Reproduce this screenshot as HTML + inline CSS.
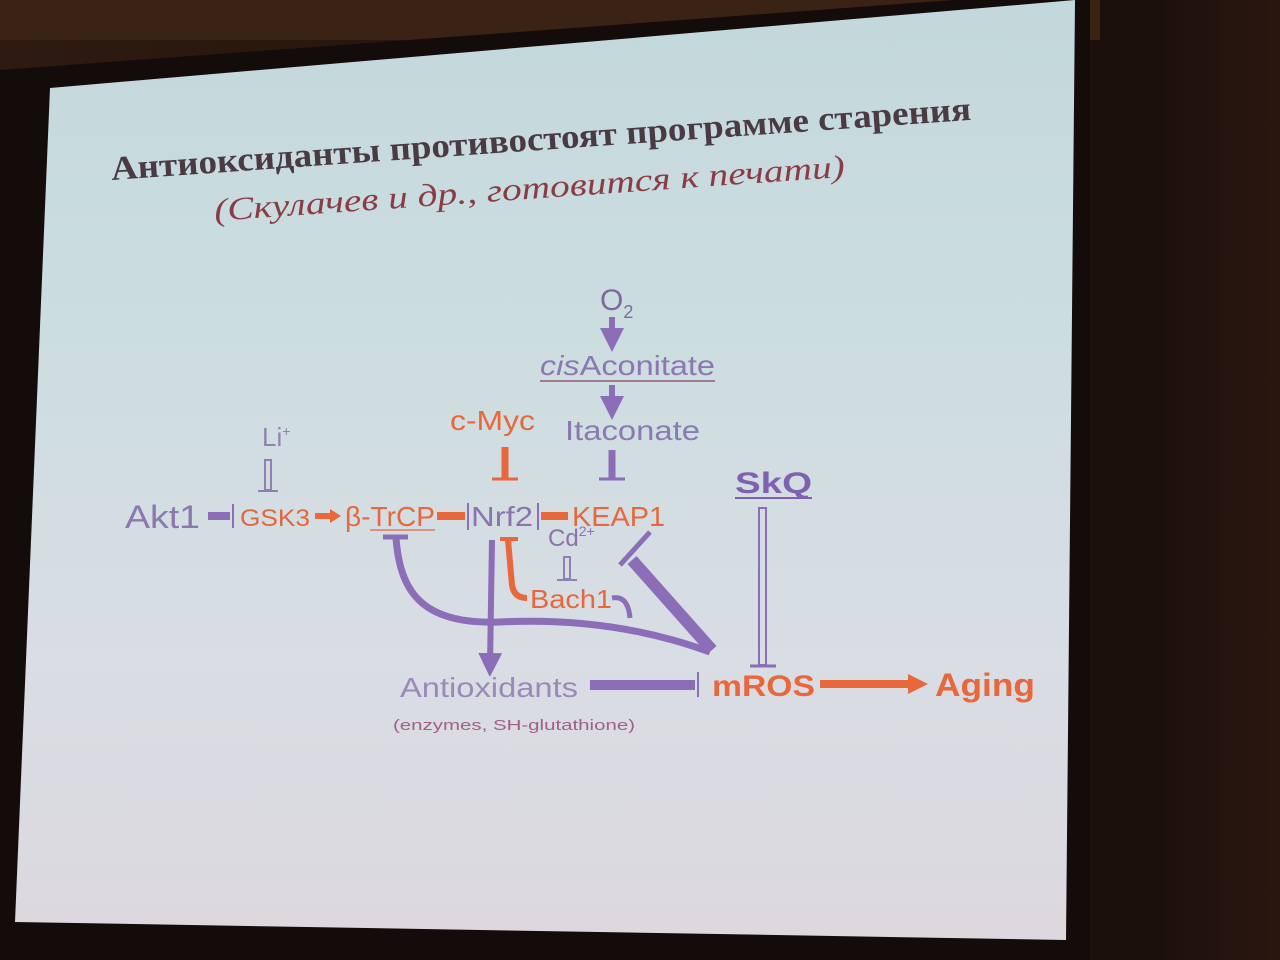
<!DOCTYPE html>
<html><head><meta charset="utf-8"><style>
html,body{margin:0;padding:0;background:#241510;}
svg{display:block}
text{font-family:"Liberation Sans","DejaVu Sans",sans-serif}
.t{font-family:"Liberation Serif","DejaVu Serif",serif}
</style></head><body>
<svg width="1280" height="960" viewBox="0 0 1280 960" xmlns="http://www.w3.org/2000/svg">
<defs>
<linearGradient id="bg" x1="0" y1="0" x2="0" y2="1">
<stop offset="0" stop-color="#c3d8dc"/>
<stop offset="0.35" stop-color="#ccdde0"/>
<stop offset="0.7" stop-color="#d9dde4"/>
<stop offset="1" stop-color="#dcd8de"/>
</linearGradient>
<linearGradient id="room" x1="0" y1="0" x2="1" y2="0">
<stop offset="0" stop-color="#2e1a10"/>
<stop offset="0.9" stop-color="#1c100c"/>
<stop offset="1" stop-color="#2a160f"/>
</linearGradient>
<marker id="ap" markerWidth="4" markerHeight="4" refX="2" refY="2" orient="auto"><path d="M0,0 L4,2 L0,4z" fill="#8b6db8"/></marker>
</defs>
<rect width="1280" height="960" fill="url(#room)"/>
<rect x="0" y="0" width="1100" height="40" fill="#3a2314"/>
<polygon points="0,70 1090,-10 1090,960 0,960" fill="#140c0a"/>
<polygon points="50,88 1075,0 1066,940 15,922" fill="url(#bg)"/>
<g transform="rotate(-4 540 140)">
<text class="t" x="110" y="150" font-size="34" font-weight="bold" fill="#4a3a42" textLength="862" lengthAdjust="spacingAndGlyphs">Антиоксиданты противостоят программе старения</text>
<text class="t" x="210" y="198" font-size="32" font-style="italic" fill="#8a3c44" textLength="632" lengthAdjust="spacingAndGlyphs">(Скулачев и др., готовится к печати)</text>
</g>
<g font-size="28">
<text x="600" y="310" fill="#7d6a9c" font-size="30">O<tspan font-size="18" dy="8">2</tspan></text>
<line x1="612" y1="317" x2="612" y2="340" stroke="#8b6db8" stroke-width="6" marker-end="url(#ap)"/>
<text x="540" y="375" fill="#8b78b0" textLength="175" lengthAdjust="spacingAndGlyphs"><tspan font-style="italic">cis</tspan>Aconitate</text>
<line x1="540" y1="381" x2="715" y2="381" stroke="#a07890" stroke-width="2"/>
<line x1="612" y1="385" x2="612" y2="408" stroke="#8b6db8" stroke-width="6" marker-end="url(#ap)"/>
<text x="565" y="440" fill="#8b7ab0" textLength="135" lengthAdjust="spacingAndGlyphs">Itaconate</text>
<text x="450" y="430" fill="#e8683c" textLength="85" lengthAdjust="spacingAndGlyphs">c-Myc</text>
<text x="262" y="446" fill="#9182b0" font-size="26">Li<tspan font-size="14" dy="-10">+</tspan></text>
<rect x="265" y="460" width="6" height="30" fill="none" stroke="#9080b0" stroke-width="2"/>
<line x1="258" y1="491" x2="278" y2="491" stroke="#9080b0" stroke-width="2"/>
<line x1="505" y1="447" x2="505" y2="478" stroke="#e8683c" stroke-width="7"/>
<line x1="492" y1="479" x2="518" y2="479" stroke="#e8683c" stroke-width="3"/>
<line x1="612" y1="450" x2="612" y2="478" stroke="#8b6db8" stroke-width="7"/>
<line x1="599" y1="479" x2="625" y2="479" stroke="#8b6db8" stroke-width="3"/>
<text x="125" y="528" fill="#8a78b0" font-size="32" textLength="75" lengthAdjust="spacingAndGlyphs">Akt1</text>
<line x1="208" y1="516" x2="230" y2="516" stroke="#8b6db8" stroke-width="8"/>
<line x1="233" y1="504" x2="233" y2="528" stroke="#8b6db8" stroke-width="2"/>
<text x="240" y="526" fill="#e0683c" font-size="24" textLength="70" lengthAdjust="spacingAndGlyphs">GSK3</text>
<line x1="315" y1="516" x2="332" y2="516" stroke="#e8683c" stroke-width="6"/>
<path d="M330,509 L341,516 L330,523z" fill="#e8683c"/>
<text x="345" y="526" fill="#e8683c" textLength="90" lengthAdjust="spacingAndGlyphs">β-TrCP</text>
<line x1="370" y1="530" x2="435" y2="530" stroke="#e09080" stroke-width="2"/>
<line x1="437" y1="516" x2="465" y2="516" stroke="#e8683c" stroke-width="8"/>
<line x1="468" y1="503" x2="468" y2="530" stroke="#8b6db8" stroke-width="2"/>
<text x="471" y="526" fill="#8a74b0" textLength="62" lengthAdjust="spacingAndGlyphs">Nrf2</text>
<line x1="538" y1="503" x2="538" y2="530" stroke="#8b6db8" stroke-width="2"/>
<line x1="541" y1="516" x2="568" y2="516" stroke="#e8683c" stroke-width="8"/>
<text x="572" y="526" fill="#e8683c" textLength="93" lengthAdjust="spacingAndGlyphs">KEAP1</text>
<text x="548" y="546" fill="#8a74b0" font-size="24">Cd<tspan font-size="14" dy="-10">2+</tspan></text>
<text x="735" y="493" fill="#8060b0" font-size="30" font-weight="bold" textLength="77" lengthAdjust="spacingAndGlyphs">SkQ</text>
<line x1="735" y1="498" x2="812" y2="498" stroke="#8060b0" stroke-width="2"/>
<rect x="759" y="508" width="7" height="157" fill="none" stroke="#8b6db8" stroke-width="2"/>
<line x1="750" y1="666" x2="776" y2="666" stroke="#8b6db8" stroke-width="3"/>
<rect x="564" y="557" width="6" height="22" fill="none" stroke="#9080b0" stroke-width="2"/>
<line x1="557" y1="580" x2="577" y2="580" stroke="#9080b0" stroke-width="2"/>
<text x="530" y="608" fill="#e8683c" font-size="26" textLength="82" lengthAdjust="spacingAndGlyphs">Bach1</text>
<line x1="383" y1="537" x2="408" y2="537" stroke="#8b6db8" stroke-width="5"/>
<path d="M396,538 C400,590 420,625 500,622 C580,618 650,630 710,652" fill="none" stroke="#8b6db8" stroke-width="7"/>
<path d="M492,540 L490,665" fill="none" stroke="#8b6db8" stroke-width="6" marker-end="url(#ap)"/>
<path d="M508,540 L512,585 Q514,598 527,598" fill="none" stroke="#e8683c" stroke-width="6"/>
<line x1="500" y1="539" x2="518" y2="539" stroke="#e8683c" stroke-width="4"/>
<path d="M612,598 Q628,595 630,618" fill="none" stroke="#8b6db8" stroke-width="5"/>
<path d="M632,560 L712,650" fill="none" stroke="#8b6db8" stroke-width="12"/>
<line x1="620" y1="565" x2="650" y2="532" stroke="#8b6db8" stroke-width="5"/>
<text x="400" y="697" fill="#9a8ab8" textLength="178" lengthAdjust="spacingAndGlyphs">Antioxidants</text>
<line x1="590" y1="685" x2="695" y2="685" stroke="#8b6db8" stroke-width="10"/>
<line x1="698" y1="672" x2="698" y2="697" stroke="#8b6db8" stroke-width="2"/>
<text x="712" y="696" fill="#e8683c" font-size="30" font-weight="bold" textLength="103" lengthAdjust="spacingAndGlyphs">mROS</text>
<line x1="820" y1="684" x2="912" y2="684" stroke="#e8683c" stroke-width="8"/>
<path d="M908,674 L928,684 L908,694z" fill="#e8683c"/>
<text x="935" y="696" fill="#e8683c" font-size="32" font-weight="bold" textLength="100" lengthAdjust="spacingAndGlyphs">Aging</text>
<text x="393" y="730" fill="#a06088" font-size="15" textLength="242" lengthAdjust="spacingAndGlyphs">(enzymes, SH-glutathione)</text>
</g>
</svg>
</body></html>
